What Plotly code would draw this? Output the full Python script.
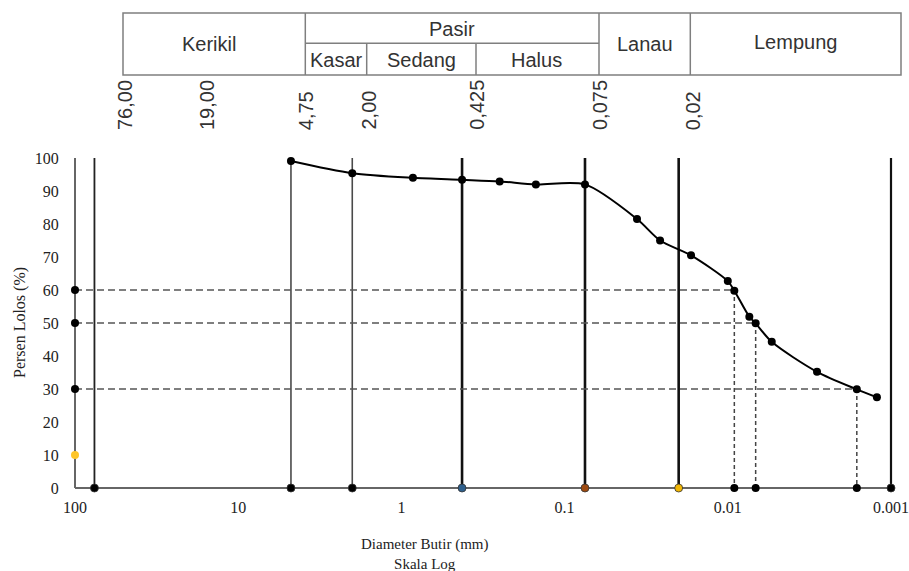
import plotly.graph_objects as go

# ---------------- data ----------------
diam = [4.75, 2.0, 0.85, 0.425, 0.25, 0.15, 0.075, 0.036, 0.026, 0.0168,
        0.0100, 0.00912, 0.00738, 0.00675, 0.00538, 0.00284, 0.00162, 0.00122]
pass_pct = [99.1, 95.4, 94.0, 93.4, 92.9, 92.0, 92.0, 81.5, 75.0, 70.5,
            62.7, 59.8, 51.9, 49.9, 44.3, 35.2, 29.9, 27.5]

boundary_d = [76, 4.75, 2.0, 0.425, 0.075, 0.02, 0.001]
boundary_marker_colors = ["#000000", "#000000", "#000000", "#2e5f8c",
                          "#9e4a10", "#f2b705", "#000000"]

d_pct = [60, 50, 30]
d_vals = [0.00912, 0.00675, 0.00162]
d10_pct = 10

x_tickvals = [100, 10, 1, 0.1, 0.01, 0.001]
x_ticktext = ["100", "10", "1", "0.1", "0.01", "0.001"]
y_tickvals = [0, 10, 20, 30, 40, 50, 60, 70, 80, 90, 100]

sieve_labels = ["76,00", "19,00", "4,75", "2,00", "0,425", "0,075", "0,02"]
class_top = ["Kerikil", "Pasir", "Lanau", "Lempung"]
class_sub = ["Kasar", "Sedang", "Halus"]

# ---------------- layout geometry (pixels) ----------------
W, H = 909, 571
ML, MR, MT, MB = 72, 15, 155, 80
PW, PH = W - ML - MR, H - MT - MB
PX_DEC = 163.2
X_LEFT = 75
Y0_PX, Y_PER = 488, 3.3

xr = [2 + (X_LEFT - ML) / PX_DEC, -3 - (W - MR - 891) / PX_DEC]
yr = [-(H - MB - Y0_PX) / Y_PER, 100 + (158 - MT) / Y_PER]


def px(xp):
    return (xp - ML) / PW


def py(yp):
    return (H - MB - yp) / PH


fig = go.Figure()

# axis lines
fig.add_trace(go.Scatter(x=[100, 100], y=[0, 100], mode="lines",
                         line=dict(color="#666666", width=2), hoverinfo="skip"))
fig.add_trace(go.Scatter(x=[100, 0.001], y=[0, 0], mode="lines",
                         line=dict(color="#666666", width=2), hoverinfo="skip"))

# boundary vertical lines
widths = [1.8, 1.6, 1.6, 2.6, 2.6, 2.6, 2.2]
colors = ["#222222", "#4a4a4a", "#4a4a4a", "#111111", "#111111", "#111111", "#111111"]
for d, w, c in zip(boundary_d, widths, colors):
    fig.add_trace(go.Scatter(x=[d, d], y=[0, 100], mode="lines",
                             line=dict(color=c, width=w), hoverinfo="skip"))

# D60/D50/D30 dashed guides
for p, d in zip(d_pct, d_vals):
    fig.add_trace(go.Scatter(x=[100, d], y=[p, p], mode="lines",
                             line=dict(color="#555555", width=1.5, dash="7px,4px"),
                             hoverinfo="skip"))
    fig.add_trace(go.Scatter(x=[d, d], y=[p, 0], mode="lines",
                             line=dict(color="#444444", width=1.5, dash="4px,3px"),
                             hoverinfo="skip"))

# grain size curve
fig.add_trace(go.Scatter(x=diam, y=pass_pct, mode="lines+markers",
                         line=dict(color="#000000", width=2, shape="spline", smoothing=0.8),
                         marker=dict(color="#000000", size=8), cliponaxis=False))

# bottom markers
fig.add_trace(go.Scatter(x=boundary_d, y=[0] * len(boundary_d), mode="markers",
                         marker=dict(color=boundary_marker_colors, size=8,
                                     line=dict(color="#333333", width=0.8)),
                         cliponaxis=False))
fig.add_trace(go.Scatter(x=d_vals, y=[0] * len(d_vals), mode="markers",
                         marker=dict(color="#000000", size=8), cliponaxis=False))

# left axis markers
fig.add_trace(go.Scatter(x=[100] * len(d_pct), y=d_pct, mode="markers",
                         marker=dict(color="#000000", size=8), cliponaxis=False))
fig.add_trace(go.Scatter(x=[100], y=[d10_pct], mode="markers",
                         marker=dict(color="#fdc52a", size=8), cliponaxis=False))

serif = "Liberation Serif"
sans = "Liberation Sans"

fig.update_layout(
    width=W, height=H, showlegend=False,
    margin=dict(l=ML, r=MR, t=MT, b=MB, autoexpand=False),
    paper_bgcolor="white", plot_bgcolor="white",
    xaxis=dict(type="log", range=xr, tickvals=x_tickvals, ticktext=x_ticktext,
               showgrid=False, zeroline=False, showline=False,
               ticks="outside", ticklen=2, tickcolor="rgba(0,0,0,0)",
               tickfont=dict(family=serif, size=16, color="#222222"),
               automargin=False, fixedrange=True),
    yaxis=dict(range=yr, tickvals=y_tickvals, showgrid=False, zeroline=False,
               showline=False, ticks="outside", ticklen=9,
               tickcolor="rgba(0,0,0,0)",
               tickfont=dict(family=serif, size=16, color="#222222"),
               automargin=False, fixedrange=True),
)

ann = []


def add_text(t, xp, yp, size, family, angle=0, xa="center", ya="middle"):
    ann.append(dict(x=px(xp), y=py(yp), xref="paper", yref="paper", showarrow=False,
                    text=t, textangle=angle, xanchor=xa, yanchor=ya,
                    font=dict(family=family, size=size,
                              color="#222222" if family == serif else "#333333")))


# axis titles (two lines)
add_text("Diameter Butir (mm)<br>Skala Log", 424, 554, 15, serif)
add_text("Persen Lolos (%)", 20, 322, 16, serif, angle=-90)

# classification table
shapes = []
bc = "#7f7f7f"


def line(x0, y0, x1, y1):
    shapes.append(dict(type="line", xref="paper", yref="paper",
                       x0=px(x0), y0=py(y0), x1=px(x1), y1=py(y1),
                       line=dict(color=bc, width=1.5)))


shapes.append(dict(type="rect", xref="paper", yref="paper",
                   x0=px(123), y0=py(13), x1=px(901), y1=py(75),
                   line=dict(color=bc, width=1.5)))
line(305.3, 43.3, 599, 43.3)
for xv in [305.3, 599, 690.3]:
    line(xv, 13, xv, 75)
for xv in [366.7, 476]:
    line(xv, 43.3, xv, 75)

top_pos = [(209, 44), (452, 29), (645, 44), (795.5, 42)]
sub_pos = [(336, 60), (421.5, 60), (536, 60)]
for t, (xp, yp) in zip(class_top, top_pos):
    add_text(t, xp, yp, 20, sans)
for t, (xp, yp) in zip(class_sub, sub_pos):
    add_text(t, xp, yp, 20, sans)

label_x = [125, 207, 305.7, 368, 476.7, 600, 692.7]
for t, xp in zip(sieve_labels, label_x):
    add_text(t, xp, 132, 20, sans, angle=-90, xa="center", ya="bottom")

fig.update_layout(annotations=ann, shapes=shapes)
fig.write_html("out.html")
